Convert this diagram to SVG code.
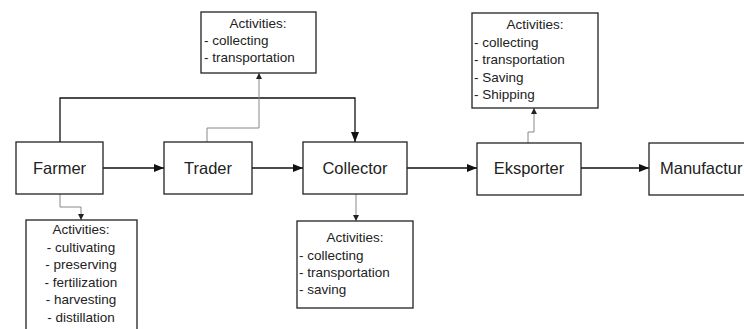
<svg xmlns="http://www.w3.org/2000/svg" width="744" height="329" viewBox="0 0 744 329">
<style>
.box{fill:#fff;stroke:#222;stroke-width:1.3}
.lbl{font-family:"Liberation Sans",Arial,sans-serif;font-size:16.5px;fill:#222;text-anchor:middle}
.act{font-family:"Liberation Sans",Arial,sans-serif;font-size:13.5px;fill:#222}
.c{text-anchor:middle}
.main{fill:none;stroke:#111;stroke-width:1.3}
.sub{fill:none;stroke:#888;stroke-width:1}
</style>
<defs>
<marker id="ah" markerWidth="10" markerHeight="8" refX="10" refY="4" orient="auto" markerUnits="userSpaceOnUse">
<path d="M0,0 L10,4 L0,8 Z" fill="#111"/>
</marker>
<marker id="sh" markerWidth="6" markerHeight="6" refX="6" refY="3" orient="auto" markerUnits="userSpaceOnUse">
<path d="M0,0 L6,3 L0,6 Z" fill="#222"/>
</marker>
</defs>
<rect width="744" height="329" fill="#fff"/>
<g id="connectors">
<path class="main" d="M103,168 H164" marker-end="url(#ah)"/>
<path class="main" d="M252,168 H303" marker-end="url(#ah)"/>
<path class="main" d="M407,168 H477" marker-end="url(#ah)"/>
<path class="main" d="M581,168 H649" marker-end="url(#ah)"/>
<path class="main" d="M60,142 V98 H355 V142" marker-end="url(#ah)"/>
<path class="sub" d="M207,142 V128 H259 V73" marker-end="url(#sh)"/>
<path class="sub" d="M528,143 V132 H534 V108" marker-end="url(#sh)"/>
<path class="sub" d="M356,194 V221" marker-end="url(#sh)"/>
<path class="sub" d="M60,194 V207 H81 V220" marker-end="url(#sh)"/>
</g>
<g id="farmer"><rect class="box" x="16" y="142" width="87" height="52"/><text class="lbl" x="59.5" y="174">Farmer</text></g>
<g id="trader"><rect class="box" x="164" y="142" width="88" height="52"/><text class="lbl" x="208" y="174">Trader</text></g>
<g id="collector"><rect class="box" x="303" y="142" width="104" height="52"/><text class="lbl" x="355" y="174">Collector</text></g>
<g id="eksporter"><rect class="box" x="477" y="143" width="104" height="52"/><text class="lbl" x="529" y="174">Eksporter</text></g>
<g id="manufacturer"><rect class="box" x="649" y="143" width="110" height="52"/><text class="lbl" x="660" y="174" style="text-anchor:start">Manufactur</text></g>
<g id="trader-activities"><rect class="box" x="201" y="12" width="115" height="61"/>
<text class="act c" x="258" y="28">Activities:</text>
<text class="act" x="204" y="45">- collecting</text>
<text class="act" x="204" y="62">- transportation</text></g>
<g id="eksporter-activities"><rect class="box" x="472" y="13" width="126" height="95"/>
<text class="act c" x="535" y="29">Activities:</text>
<text class="act" x="474" y="47">- collecting</text>
<text class="act" x="474" y="64">- transportation</text>
<text class="act" x="474" y="82">- Saving</text>
<text class="act" x="474" y="99">- Shipping</text></g>
<g id="collector-activities"><rect class="box" x="297" y="221" width="116" height="87"/>
<text class="act c" x="355" y="242">Activities:</text>
<text class="act" x="299" y="260">- collecting</text>
<text class="act" x="299" y="277">- transportation</text>
<text class="act" x="299" y="294">- saving</text></g>
<g id="farmer-activities"><rect class="box" x="26" y="220" width="111" height="115"/>
<text class="act c" x="81" y="234">Activities:</text>
<text class="act c" x="81" y="252">- cultivating</text>
<text class="act c" x="81" y="269">- preserving</text>
<text class="act c" x="81" y="287">- fertilization</text>
<text class="act c" x="81" y="304">- harvesting</text>
<text class="act c" x="81" y="322">- distillation</text></g>
</svg>
